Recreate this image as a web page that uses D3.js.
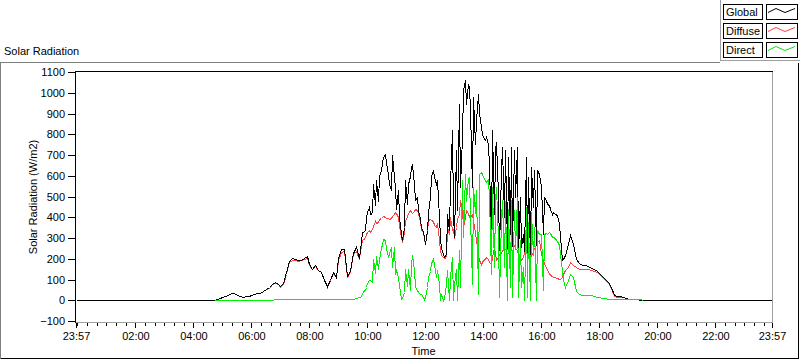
<!DOCTYPE html>
<html><head><meta charset="utf-8">
<script src="https://cdn.jsdelivr.net/npm/d3@7"></script>
<style>
body{margin:0;background:#fff;}
svg{display:block;font-family:"Liberation Sans",Arial,sans-serif;font-size:11px;}
</style></head><body>
<svg id="c" width="800" height="361"></svg>
<script>
// ---------- DATA ----------
// time in minutes after midnight; sampled segments [start, end, step]
const dayStart = -3, dayEnd = 1437; // 23:57 .. 23:57
const timeSegments = [[270, 582, 6], [585, 1008, 3], [1014, 1200, 6]];

const globalRad = [
 0,
 0,0,2,8,12,16,20,27,33,36,
 24,19,18,19,22,27,30,33,36,44,
 54,62,80,88,80,68,85,135,190,203,
 197,193,196,202,212,175,153,168,148,138,
 100,68,100,135,112,205,245,245,115,140,
 230,255,205,
 240,330,330,340,395,425,450,415,420,560,
 460,578,480,600,626,660,690,707,660,610,
 560,530,699,594,546,442,530,400,321,289,
 353,578,466,562,600,643,651,562,482,500,
 434,390,353,330,305,273,337,420,500,600,
 626,594,562,580,400,300,250,225,209,225,
 418,337,562,819,420,305,723,434,948,546,
 787,1012,1060,948,1040,1028,916,546,980,755,
 867,996,900,835,803,787,771,787,755,643,
 305,819,418,723,763,514,241,626,739,402,
 723,250,691,321,739,262,723,498,739,225,
 500,257,321,235,691,232,594,210,643,450,
 626,268,626,610,578,546,321,498,482,466,
 458,442,418,426,418,414,405,370,305,193,
 200,217,
 270,313,270,200,180,169,170,163,155,150,
 142,132,118,104,88,62,24,19,19,16,
 13,8,6,8,5,1,0,0,0,0,
 0,0,
 0
];

const diffuseRad = [
 0,
 0,0,2,8,12,16,20,27,33,36,
 24,19,18,19,22,27,30,33,36,44,
 52,60,76,84,78,66,80,128,182,196,
 192,190,193,198,205,170,150,163,145,135,
 98,66,98,130,110,195,232,235,113,138,
 222,235,200,
 236,289,295,300,320,329,337,330,345,360,
 380,370,375,390,395,402,405,400,398,394,
 390,394,405,415,426,420,400,360,305,281,
 330,386,400,420,434,425,420,430,442,436,
 420,380,337,330,300,270,330,386,390,386,
 380,365,353,370,289,241,220,209,205,209,
 353,320,402,337,345,300,353,390,418,482,
 434,353,402,434,420,402,400,418,380,330,
 289,225,193,177,185,193,200,209,200,185,
 177,209,257,230,193,210,225,230,241,241,
 245,249,250,255,257,260,265,250,240,225,
 209,193,210,233,241,230,215,209,220,233,
 250,265,281,290,260,225,193,177,160,145,
 130,120,116,112,110,108,106,104,104,110,
 125,145,
 161,185,172,158,150,150,153,150,147,143,
 138,128,114,100,84,60,22,18,17,14,
 12,7,5,7,4,1,0,0,0,0,
 0,0,
 0
];

const directRad = [
 null,
 null,null,0,0,0,0,0,0,0,0,
 0,0,0,0,0,0,0,0,0,0,
 0,0,3,4,4,4,5,5,6,7,
 5,5,6,6,5,5,4,4,5,5,
 4,4,5,5,5,5,6,7,5,6,
 8,12,16,
 18,30,45,50,65,85,100,96,90,200,
 130,215,150,200,250,273,297,289,250,209,
 230,257,161,257,128,144,110,72,8,10,
 40,150,70,150,48,177,217,145,64,48,
 40,32,28,15,8,16,64,110,140,180,
 201,177,112,145,80,0,32,0,10,80,
 145,0,112,209,0,80,150,0,241,64,
 578,305,610,480,590,594,400,80,546,420,
 530,32,610,618,610,594,578,570,586,500,
 128,546,161,480,546,300,16,396,482,161,
 478,0,441,66,482,16,434,248,499,16,
 291,64,161,0,450,16,379,0,423,217,
 353,0,337,320,318,321,48,321,322,321,
 329,322,305,305,300,289,285,266,225,144,
 96,64,
 100,125,110,45,30,24,25,26,27,22,
 16,15,13,12,8,8,6,5,5,5,
 5,5,5,5,5,4,2,null,null,null,
 null,null,
 null
];

const seriesNames = ["Global", "Diffuse", "Direct"];
const seriesColors = ["#000000", "#ff4040", "#00ee00"];
const yTickValues = [-100,0,100,200,300,400,500,600,700,800,900,1000,1100];
const xMajorTicks = [-3,120,240,360,480,600,720,840,960,1080,1200,1320,1437];
const xMajorLabels = ["23:57","02:00","04:00","06:00","08:00","10:00","12:00","14:00","16:00","18:00","20:00","22:00","23:57"];
const xMinorStep = 20;

// ---------- BUILD ----------
const times = [dayStart];
timeSegments.forEach(([a,b,s]) => { for (let t=a; t<=b; t+=s) times.push(t); });
times.push(dayEnd);

const svg = d3.select("#c");
const L = 75, T = 71, R = 772, B = 322;

const x = d3.scaleLinear().domain([dayStart, dayEnd]).range([76, 772]);
const y = d3.scaleLinear().domain([-100, 1100]).range([321, 72]);

// outer frame
svg.append("path").attr("d", `M0.5,358.5V62.5H720`).attr("fill","none").attr("stroke","#808080").attr("shape-rendering","crispEdges");
svg.append("path").attr("d", `M0.5,358.5H798.5V62.5`).attr("fill","none").attr("stroke","#000").attr("shape-rendering","crispEdges");

// title
svg.append("text").attr("x",4).attr("y",55).text("Solar Radiation").attr("fill","#000");

// legend
svg.append("path").attr("d","M720.5,0V60.5H800").attr("fill","none").attr("stroke","#a0a0a0").attr("shape-rendering","crispEdges");
const sampleShape = [[0,4],[8,0],[17,4],[27,0]];
seriesNames.forEach((n,i) => {
  const ry = 4.5 + i*19;
  const g = svg.append("g");
  g.append("rect").attr("x",723.5).attr("y",ry).attr("width",39).attr("height",15)
    .attr("fill","#fff").attr("stroke","#000").attr("shape-rendering","crispEdges");
  g.append("text").attr("x",726).attr("y",ry+11.5).text(n);
  g.append("rect").attr("x",766.5).attr("y",ry).attr("width",31).attr("height",15)
    .attr("fill","#fff").attr("stroke","#000").attr("shape-rendering","crispEdges");
  g.append("path").attr("d", d3.line()(sampleShape.map(p => [768+p[0], ry+4+p[1]])))
    .attr("fill","none").attr("stroke", seriesColors[i]).attr("stroke-width",1);
});

// clip
svg.append("clipPath").attr("id","pc").append("rect").attr("x",L+1).attr("y",T+1).attr("width",R-L).attr("height",B-T);

// data lines: Diffuse, Global, Direct (Direct on top)
const plot = svg.append("g").attr("clip-path","url(#pc)");
const series = [globalRad, diffuseRad, directRad];
const order = [1,0,2];
order.forEach(k => {
  const pts = times.map((t,i) => [t, series[k][i]]);
  const line = d3.line().defined(d => d[1] != null).x(d => Math.round(x(d[0]))+0.5).y(d => Math.round(y(d[1]))+0.5);
  plot.append("path").attr("d", line(pts)).attr("fill","none")
    .attr("stroke", seriesColors[k]).attr("stroke-width",1).attr("shape-rendering","crispEdges");
});

// plot frame
svg.append("path").attr("d",`M${L+0.5},${B+0.5}H${R+0.5}V${T+0.5}`).attr("fill","none").attr("stroke","#a0a0a0").attr("shape-rendering","crispEdges");
svg.append("path").attr("d",`M${L+0.5},${B+0.5}V${T+0.5}H${R+0.5}`).attr("fill","none").attr("stroke","#000").attr("shape-rendering","crispEdges");

// y axis
const yAxis = svg.append("g").attr("transform",`translate(${L},0)`)
  .call(d3.axisLeft(y).tickValues(yTickValues).tickSize(7).tickPadding(3).tickFormat(d3.format("d")));
yAxis.select(".domain").remove();
yAxis.selectAll("text").attr("font-family","Liberation Sans, Arial, sans-serif").attr("font-size",11).attr("fill","#000");
yAxis.selectAll("line").attr("shape-rendering","crispEdges");

// x axis minor ticks
const minor = d3.range(0, 1440, xMinorStep).filter(t => !xMajorTicks.includes(t));
const xMinor = svg.append("g").attr("transform",`translate(0,${B+1})`)
  .call(d3.axisBottom(x).tickValues(minor).tickSize(3).tickFormat(""));
xMinor.select(".domain").remove();
xMinor.selectAll("line").attr("shape-rendering","crispEdges");
// x axis major
const xAxis = svg.append("g").attr("transform",`translate(0,${B+1})`)
  .call(d3.axisBottom(x).tickValues(xMajorTicks).tickSize(5).tickPadding(4).tickFormat((d,i) => xMajorLabels[i]));
xAxis.select(".domain").remove();
xAxis.selectAll("line").attr("shape-rendering","crispEdges");
xAxis.selectAll("text").attr("font-family","Liberation Sans, Arial, sans-serif").attr("font-size",11).attr("fill","#000");

// axis titles
svg.append("text").attr("x",(L+R)/2).attr("y",355).attr("text-anchor","middle").text("Time");
svg.append("text").attr("transform",`translate(37,197) rotate(-90)`).attr("text-anchor","middle").text("Solar Radiation (W/m2)");
</script>
</body></html>
